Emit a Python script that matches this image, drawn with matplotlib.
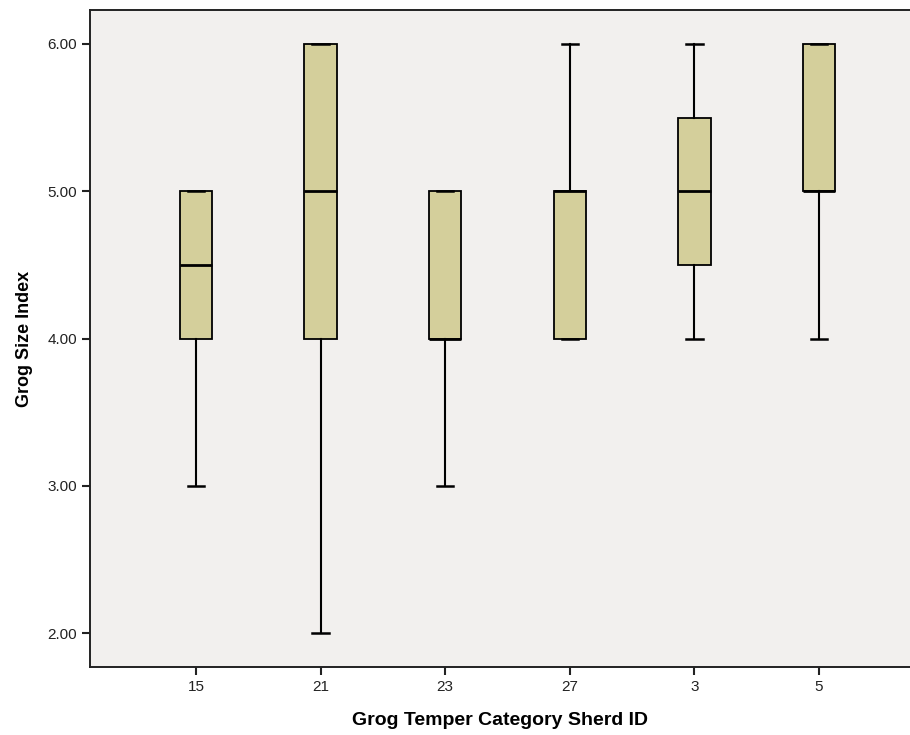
import numpy as np
import matplotlib.pyplot as plt

# Grog size index per sherd
sherd_ids = ['15', '21', '23', '27', '3', '5']
whisker_low = [3.0, 2.0, 3.0, 4.0, 4.0, 4.0]
q1 = [4.0, 4.0, 4.0, 4.0, 4.5, 5.0]
medians = [4.5, 5.0, 4.0, 5.0, 5.0, 5.0]
q3 = [5.0, 6.0, 5.0, 5.0, 5.5, 6.0]
whisker_high = [5.0, 6.0, 5.0, 6.0, 6.0, 6.0]

stats = []
for i in range(len(sherd_ids)):
    stats.append({'label': sherd_ids[i], 'whislo': whisker_low[i], 'q1': q1[i],
                  'med': medians[i], 'q3': q3[i], 'whishi': whisker_high[i],
                  'fliers': []})

plt.rcParams['font.family'] = ['Liberation Sans', 'DejaVu Sans']

fig = plt.figure(figsize=(9.1, 7.35), dpi=100)
ax = fig.add_axes([90 / 910, 68 / 735, 1 - 90 / 910, (667 - 10) / 735])
ax.set_facecolor('#f2f0ee')

ax.bxp(stats, positions=np.arange(len(sherd_ids)), widths=0.26, capwidths=0.13,
       patch_artist=True, showfliers=False,
       boxprops=dict(facecolor='#d4cf9b', edgecolor='black', linewidth=1.3),
       medianprops=dict(color='black', linewidth=2),
       whiskerprops=dict(color='black', linewidth=1.5),
       capprops=dict(color='black', linewidth=1.8))

ax.set_xlim(-0.85, 5.73)
ax.set_ylim(1.77, 6.23)
ax.set_yticks([2, 3, 4, 5, 6])
ax.set_yticklabels(['%.2f' % v for v in [2, 3, 4, 5, 6]])
ax.set_xticks(np.arange(len(sherd_ids)))
ax.set_xticklabels(sherd_ids)

ax.spines['right'].set_visible(False)
for s in ['left', 'bottom', 'top']:
    ax.spines[s].set_linewidth(1.4)
    ax.spines[s].set_color('#222222')
ax.tick_params(direction='out', length=6, width=1.5, labelsize=11, colors='#222222')

ax.set_xlabel('Grog Temper Category Sherd ID', fontsize=14, fontweight='bold', labelpad=13)
ax.set_ylabel('Grog Size Index', fontsize=13, fontweight='bold', labelpad=10)

fig.savefig('out.png', dpi=100, facecolor='white')
